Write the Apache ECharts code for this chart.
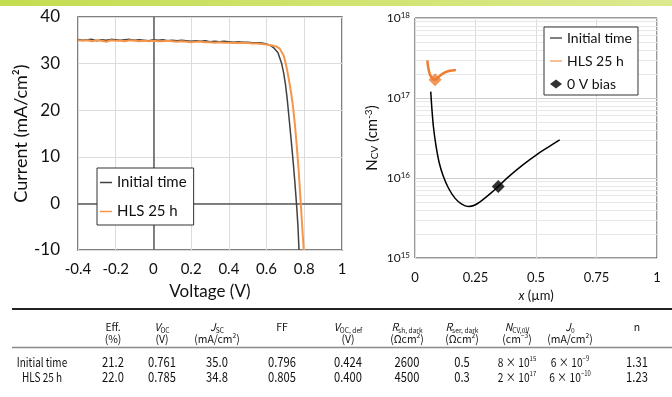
<!DOCTYPE html>
<html>
<head>
<meta charset="utf-8">
<script src="https://cdn.jsdelivr.net/npm/echarts@6/dist/echarts.min.js"></script>
<style>
html,body{margin:0;padding:0;background:#fff;}
#c{width:672px;height:397px;}
</style>
</head>
<body>
<div id="c"></div>
<script>
// ---- J-V data (left chart) ----
const vInit = [-0.4,-0.375,-0.35,-0.325,-0.3,-0.275,-0.25,-0.225,-0.2,-0.175,-0.15,-0.125,-0.1,-0.075,-0.05,-0.025,0,0.025,0.05,0.075,0.1,0.125,0.15,0.175,0.2,0.225,0.25,0.275,0.3,0.325,0.35,0.375,0.4,0.425,0.45,0.475,0.5,0.525,0.55,0.575,
  0.6,0.62,0.64,0.66,0.68,0.69,0.70,0.71,0.72,0.73,0.74,0.75,0.76,0.766,0.772];
const jInit = [35.2,35.0,35.1,35.2,34.9,35.1,35.0,35.2,35.1,35.0,35.1,35.2,35.0,35.1,35.0,34.9,35.1,35.0,35.1,34.9,35.0,34.9,35.0,34.9,34.8,34.9,34.8,34.9,34.7,34.8,34.7,34.8,34.7,34.6,34.7,34.6,34.6,34.5,34.5,34.4,
  34.2,33.9,33.3,32.4,30.0,28.1,25.6,22.2,18.0,13.8,9.4,4.6,-0.8,-4.6,-10];
const vHls = [-0.4,-0.375,-0.35,-0.325,-0.3,-0.275,-0.25,-0.225,-0.2,-0.175,-0.15,-0.125,-0.1,-0.075,-0.05,-0.025,0,0.025,0.05,0.075,0.1,0.125,0.15,0.175,0.2,0.225,0.25,0.275,0.3,0.325,0.35,0.375,0.4,0.425,0.45,0.475,0.5,0.525,0.55,0.575,
  0.6,0.63,0.65,0.67,0.68,0.69,0.70,0.71,0.72,0.73,0.74,0.75,0.76,0.77,0.78,0.79,0.797];
const jHls = [35.0,34.9,35.0,34.8,35.0,34.9,34.7,35.0,34.9,34.9,34.8,35.0,34.9,34.8,34.9,34.8,34.9,34.8,34.8,34.9,34.8,34.7,34.8,34.7,34.6,34.7,34.7,34.6,34.6,34.5,34.6,34.5,34.5,34.4,34.5,34.4,34.4,34.3,34.3,34.2,
  34.1,33.9,33.7,33.2,32.8,31.8,30.3,28.4,26.2,23.8,20.8,17.0,12.4,7.2,0.8,-5.6,-10];

// ---- C-V profile data (right chart) ----
const cvInitX = [0.065,0.069,0.076,0.087,0.100,0.117,0.138,0.165,0.193,0.220,0.248,0.282,0.317,0.344,0.392,0.447,0.502,0.557,0.598];
const cvInitN = [1.2e17,7.9e16,4.4e16,2.5e16,1.55e16,1.05e16,7.5e15,5.6e15,4.7e15,4.4e15,4.6e15,5.4e15,6.6e15,7.85e15,1.07e16,1.47e16,1.95e16,2.5e16,3.0e16];
const cvHlsX = [0.051,0.055,0.062,0.073,0.083,0.103,0.124,0.144,0.169];
const cvHlsN = [2.95e17,2.37e17,1.95e17,1.74e17,1.69e17,1.9e17,2.09e17,2.19e17,2.24e17];
const biasX = [0.344,0.083];
const biasN = [7.85e15,1.69e17];

// ---- table ----
const rowNames = ['Initial time','HLS 25 h'];
const colHeads1 = ['Eff.','{i|V}{sb|OC}','{i|J}{sb|SC}','FF','{i|V}{sb|OC, def}','{i|R}{sb|sh, dark}','{i|R}{sb|ser, dark}','{i|N}{sb|CV,0V}','{i|J}{sb|0}','n'];
const colHeads2 = ['(%)','(V)','(mA/cm{sp|2})','','(V)','(Ωcm{sp|2})','(Ωcm{sp|2})','(cm{sp|−3})','(mA/cm{sp|2})',''];
const rowInit = ['21.2','0.761','35.0','0.796','0.424','2600','0.5','8 × 10{sp|15}','6 × 10{sp|−9}','1.31'];
const rowHls  = ['22.0','0.785','34.8','0.805','0.400','4500','0.3','2 × 10{sp|17}','6 × 10{sp|−10}','1.23'];
const colX = [113,162,217,282,348,407,462,517,570,637];

const FONT = 'Lato';
const TFONT = '"Noto Sans CJK JP"';
const LINE_ICON = 'path://M0,0L24,0L24,3L0,3Z';
const LINE_ICON2 = 'path://M0,0L24,0L24,2L0,2Z';

const minorLines = [];
for (let e = 15; e < 18; e++) for (let k = 2; k <= 9; k++) minorLines.push({yAxis: k * Math.pow(10, e)});

const zip = (a, b) => a.map((x, i) => [x, b[i]]);

const graphics = [
  {type:'rect', shape:{x:0,y:0,width:672,height:6}, style:{fill:new echarts.graphic.LinearGradient(0,0,1,0,[{offset:0,color:'#c3dd50'},{offset:1,color:'#dde98f'}])}, silent:true},
  {type:'line', shape:{x1:12,y1:309,x2:672,y2:309}, style:{stroke:'#222',lineWidth:2}},
  {type:'line', shape:{x1:12,y1:347.5,x2:672,y2:347.5}, style:{stroke:'#8a8a8a',lineWidth:1.5}}
];
function richT(size) {
  return {
    i:{fontStyle:'italic', fontSize:size, fontFamily:TFONT, lineHeight:14, fill:'#111'},
    sb:{fontSize:Math.round(size*0.62), fontFamily:TFONT, lineHeight:8, verticalAlign:'bottom', fill:'#111'},
    sp:{fontSize:Math.round(size*0.62), fontFamily:TFONT, lineHeight:8, verticalAlign:'top', fill:'#111'}
  };
}
function tText(txt, x, y, size, sx) {
  return {type:'text', x:x, y:y, scaleX:sx, style:{text:txt, x:0, y:0, align:'center', verticalAlign:'middle', fontSize:size, fontFamily:TFONT, fill:'#111', lineHeight:14, rich:richT(size)}};
}
colX.forEach((x, i) => {
  graphics.push(tText(colHeads1[i], x, 326.5, 11, 0.95));
  if (colHeads2[i]) graphics.push(tText(colHeads2[i], x, 338.5, 11, 0.95));
  const sci = rowInit[i].indexOf('×') >= 0;
  graphics.push(tText(rowInit[i], x, 362, sci ? 12 : 14, sci ? 0.85 : 0.8));
  graphics.push(tText(rowHls[i], x, 377, sci ? 12 : 14, sci ? 0.85 : 0.8));
});
graphics.push(tText(rowNames[0], 42, 362, 12.5, 0.8));
graphics.push(tText(rowNames[1], 42, 377, 12.5, 0.8));

const option = {
  animation:false,
  backgroundColor:'#fff',
  graphic: graphics,
  grid:[
    {left:78, top:17, width:264, height:233, show:true, borderColor:'#555', borderWidth:1.5, backgroundColor:'transparent'},
    {left:415, top:18, width:242, height:240, show:true, borderColor:'#333', borderWidth:1, backgroundColor:'transparent'}
  ],
  legend:[
    {data:[{name:'Initial time', icon:LINE_ICON},{name:'HLS 25 h', icon:LINE_ICON}], left:97, top:168, orient:'vertical', itemWidth:12, itemHeight:14, itemGap:14,
     padding:[7,7,6,3], borderColor:'#333', borderWidth:1, backgroundColor:'#fff', selectedMode:false,
     textStyle:{fontSize:15, fontFamily:FONT, color:'#111'}},
    {data:[{name:'Initial time', icon:LINE_ICON2, itemStyle:{color:'#000'}},{name:'HLS 25 h', icon:LINE_ICON2, itemStyle:{color:'#ed7d31'}},{name:'0 V bias', icon:'diamond', itemStyle:{color:'#000'}}],
     left:544, top:27, orient:'vertical', itemWidth:12, itemHeight:9, itemGap:9,
     padding:[4,6,4,6], borderColor:'#333', borderWidth:1, backgroundColor:'#fff', selectedMode:false,
     textStyle:{fontSize:14, fontFamily:FONT, color:'#111'}}
  ],
  xAxis:[
    {gridIndex:0, type:'value', min:-0.4, max:1, interval:0.2,
     name:'Voltage (V)', nameLocation:'middle', nameGap:33, nameTextStyle:{fontSize:17, fontFamily:FONT, color:'#111'},
     axisLine:{show:false}, axisTick:{show:false},
     axisLabel:{fontSize:15, fontFamily:FONT, color:'#111', margin:12},
     splitLine:{lineStyle:{color:'#dcdcdc', width:1}}},
    {gridIndex:1, type:'value', min:0, max:1, interval:0.25,
     name:'{i|x} (µm)', nameLocation:'middle', nameGap:30,
     nameTextStyle:{fontSize:13, fontFamily:FONT, color:'#111', rich:{i:{fontStyle:'italic', fontSize:13, fontFamily:FONT, color:'#111'}}},
     axisLine:{show:false}, axisTick:{show:false},
     axisLabel:{fontSize:13, fontFamily:FONT, color:'#111', margin:13},
     splitLine:{lineStyle:{color:'#dcdcdc', width:1}}}
  ],
  yAxis:[
    {gridIndex:0, type:'value', min:-10, max:40, interval:10,
     name:'Current (mA/cm²)', nameLocation:'middle', nameGap:46, nameTextStyle:{fontSize:18, fontFamily:FONT, color:'#111'},
     axisLine:{show:false}, axisTick:{show:false},
     axisLabel:{fontSize:17, fontFamily:FONT, color:'#111', margin:18},
     splitLine:{lineStyle:{color:'#dcdcdc', width:1}}},
    {gridIndex:1, type:'log', logBase:10, min:1e15, max:1e18,
     name:'N{sb|CV} (cm{sp|-3})', nameLocation:'middle', nameGap:35,
     nameTextStyle:{fontSize:15, fontFamily:FONT, color:'#111', rich:{
       sb:{fontSize:10, fontFamily:FONT, color:'#111', padding:[6,0,0,0]},
       sp:{fontSize:10, fontFamily:FONT, color:'#111', padding:[0,0,6,0]}}},
     axisLine:{show:false}, axisTick:{show:false},
     axisLabel:{margin:5, formatter:function(v){return '{b|10}{s|' + Math.round(Math.log10(v)) + '}';},
       rich:{b:{fontSize:12, fontFamily:FONT, color:'#111'}, s:{fontSize:8, fontFamily:FONT, color:'#111', padding:[0,0,6,0]}}},
     splitLine:{lineStyle:{color:'#cfcfcf', width:1}}}
  ],
  series:[
    {name:'Initial time', type:'line', xAxisIndex:0, yAxisIndex:0, data:zip(vInit, jInit), symbol:'none',
     lineStyle:{color:'#404040', width:1.5}, itemStyle:{color:'#404040'}, z:3,
     markLine:{silent:true, symbol:['none','none'], label:{show:false},
       lineStyle:{color:'#5a5a5a', width:1.5, type:'solid'}, data:[{xAxis:0},{yAxis:0}], z:1}},
    {name:'HLS 25 h', type:'line', xAxisIndex:0, yAxisIndex:0, data:zip(vHls, jHls), symbol:'none',
     lineStyle:{color:'#f5964a', width:2}, itemStyle:{color:'#f5964a'}, z:4},
    {name:'Initial time', type:'line', xAxisIndex:1, yAxisIndex:1, data:zip(cvInitX, cvInitN), symbol:'none', smooth:0.3,
     lineStyle:{color:'#000', width:1.5}, itemStyle:{color:'#000'}, z:3,
     markLine:{silent:true, symbol:['none','none'], label:{show:false},
       lineStyle:{color:'#e8e8e8', width:1, type:'solid'}, data:minorLines, z:0}},
    {name:'HLS 25 h', type:'line', xAxisIndex:1, yAxisIndex:1, data:zip(cvHlsX, cvHlsN), symbol:'none', smooth:0.3,
     lineStyle:{color:'#ed7d31', width:2.5}, itemStyle:{color:'#ed7d31'}, z:3},
    {name:'0 V bias', type:'scatter', xAxisIndex:1, yAxisIndex:1, symbol:'diamond', symbolSize:13,
     itemStyle:{color:'#000'}, z:5,
     data:[{value:[biasX[0], biasN[0]], itemStyle:{color:'#000'}}, {value:[biasX[1], biasN[1]], itemStyle:{color:'#ed7d31'}}]}
  ]
};
const chart = echarts.init(document.getElementById('c'), null, {renderer:'canvas'});
chart.setOption(option);
</script>
</body>
</html>
